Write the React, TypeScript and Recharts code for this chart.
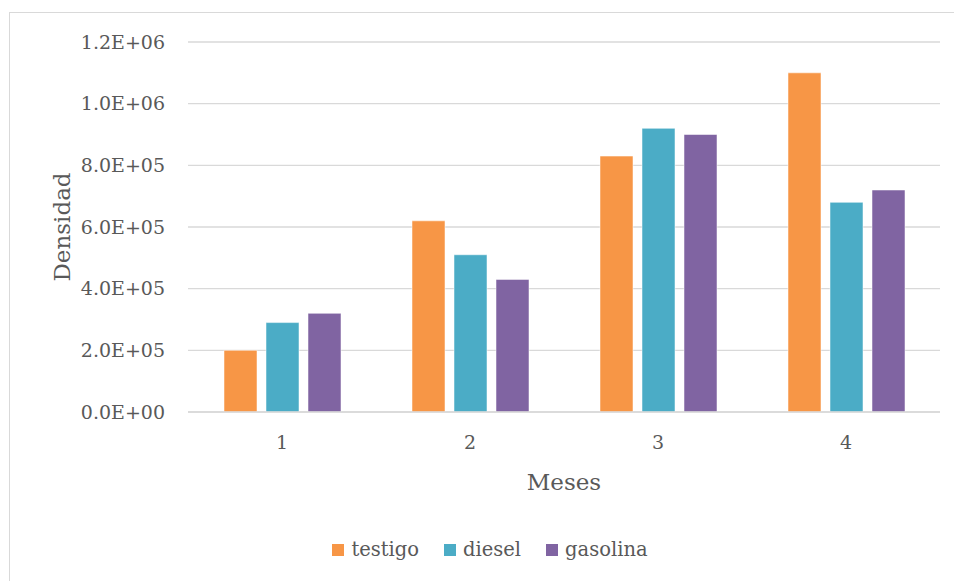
import React from 'react';
import { BarChart, Bar, XAxis, YAxis, CartesianGrid } from 'recharts';

const months = ['1', '2', '3', '4'];
const testigo = [2.0e5, 6.2e5, 8.3e5, 1.1e6];
const diesel = [2.9e5, 5.1e5, 9.2e5, 6.8e5];
const gasolina = [3.2e5, 4.3e5, 9.0e5, 7.2e5];
const yTicks = [0, 2e5, 4e5, 6e5, 8e5, 1e6, 1.2e6];

const series = [
  { key: 'testigo', color: '#F79646' },
  { key: 'diesel', color: '#4BACC6' },
  { key: 'gasolina', color: '#8064A2' },
];

const data = months.map((m, i) => ({
  mes: m,
  testigo: testigo[i],
  diesel: diesel[i],
  gasolina: gasolina[i],
}));

const FONT = '"DejaVu Serif", serif';
const TEXT = '#595959';
const GRID = '#D9D9D9';

const sci = (v: number) => {
  if (v === 0) return '0.0E+00';
  const exp = Math.floor(Math.log10(Math.abs(v)));
  const mant = v / Math.pow(10, exp);
  return `${mant.toFixed(1)}E+${String(exp).padStart(2, '0')}`;
};

// legend sits under the plot, centred on the whole (clipped) chart frame
const ChartLegend = () => (
  <div
    style={{
      position: 'absolute',
      left: 9,
      top: 538,
      width: 962,
      display: 'flex',
      justifyContent: 'center',
      fontFamily: FONT,
      fontSize: 19.5,
      color: TEXT,
    }}
  >
    {series.map((s, i) => (
      <div key={s.key} style={{ display: 'flex', alignItems: 'center', marginLeft: i ? 25 : 0 }}>
        <span style={{ width: 12, height: 12, background: s.color, marginRight: 7, display: 'inline-block' }} />
        <span>{s.key}</span>
      </div>
    ))}
  </div>
);

const YLabel = () => (
  <text
    x={62}
    y={227}
    transform="rotate(-90 62 227)"
    textAnchor="middle"
    dominantBaseline="central"
    fill={TEXT}
    fontFamily={FONT}
    fontSize={23}
  >
    Densidad
  </text>
);

export default function App() {
  return (
    <div style={{ position: 'fixed', left: 0, top: 0, width: 954, height: 581, background: '#fff', overflow: 'hidden' }}>
      <div
        style={{
          position: 'absolute',
          left: 9,
          top: 12,
          width: 1000,
          height: 700,
          border: `1px solid ${GRID}`,
        }}
      />
      <BarChart
        width={954}
        height={581}
        data={data}
        margin={{ top: 42, right: 14, bottom: 129, left: 0 }}
        barSize={33}
        barGap={9}
        style={{ position: 'absolute', left: 0, top: 0 }}
      >
        <CartesianGrid vertical={false} stroke={GRID} strokeWidth={1.3} />
        <XAxis
          dataKey="mes"
          axisLine={{ stroke: GRID, strokeWidth: 1.3 }}
          tickLine={false}
          tickSize={0}
          tickMargin={24}
          height={40}
          tick={{ fill: TEXT, fontFamily: FONT, fontSize: 19 }}
          label={{ value: 'Meses', position: 'bottom', offset: 22, fill: TEXT, fontFamily: FONT, fontSize: 23 }}
        />
        <YAxis
          width={188}
          domain={[0, 1.2e6]}
          ticks={yTicks}
          tickFormatter={sci}
          axisLine={false}
          tickLine={false}
          tickSize={0}
          tickMargin={23}
          tick={{ fill: TEXT, fontFamily: FONT, fontSize: 19 }}
          label={<YLabel />}
        />
        {series.map((s) => (
          <Bar
            key={s.key}
            dataKey={s.key}
            fill={s.color}
            stroke="#ffffff"
            strokeOpacity={0.5}
            strokeWidth={1}
            isAnimationActive={false}
          />
        ))}
      </BarChart>
      <ChartLegend />
    </div>
  );
}
